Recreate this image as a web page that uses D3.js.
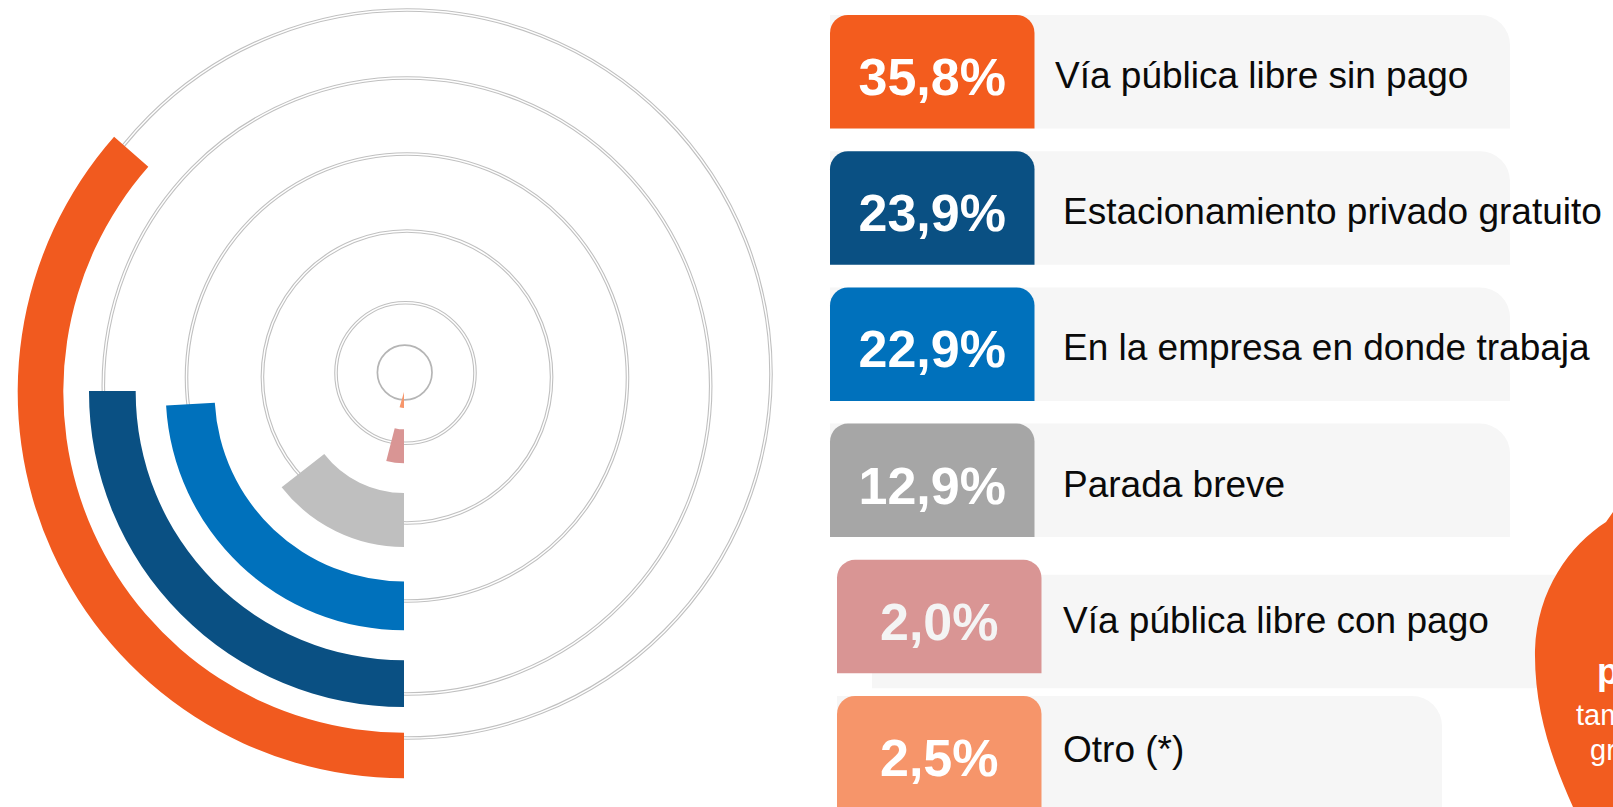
<!DOCTYPE html>
<html><head><meta charset="utf-8">
<script src="https://cdn.jsdelivr.net/npm/d3@7"></script>
<style>html,body{margin:0;padding:0;background:#fff;overflow:hidden}svg{display:block}</style>
</head><body>
<svg id="c" width="1613" height="807"></svg>
<script>
// ---------- data ----------
const categories = ["Vía pública libre sin pago","Estacionamiento privado gratuito","En la empresa en donde trabaja","Parada breve","Vía pública libre con pago","Otro (*)"];
const values = [35.8, 23.9, 22.9, 12.9, 2.0, 2.5];
const barColors = ["#f15a1f","#0a5083","#0071bc","#bfbfbf","#d99594","#f7966b"];
const boxColors = ["#f35c1e","#0a5083","#0071bc","#a6a6a6","#d99594","#f6956a"];
const calloutLines = ["pagan","también","gratuito"];

// ---------- layout ----------
const svg = d3.select("#c");
const font = "'Liberation Sans', Arial, sans-serif";
const fmt = d3.formatLocale({decimal: ",", thousands: ".", grouping: [3], currency: ["", ""]}).format(".1f");
const deg = Math.PI / 180;

// radial gridline rings (decorative)
const gridRings = [
  {cx: 404.7, cy: 372.5, rx: 27.3, ry: 27.3, single: true},
  {cx: 405.5, cy: 373, rx: 69.5, ry: 70.3},
  {cx: 407, cy: 377, rx: 144.6, ry: 146},
  {cx: 407, cy: 377.5, rx: 220.5, ry: 223.5},
  {cx: 407, cy: 386, rx: 303.7, ry: 308},
  {cx: 407, cy: 374, rx: 364, ry: 364}
];
const gGrid = svg.append("g");
gridRings.forEach(r => {
  if (r.single) {
    gGrid.append("ellipse").attr("cx", r.cx).attr("cy", r.cy).attr("rx", r.rx).attr("ry", r.ry)
      .attr("fill", "none").attr("stroke", "#b5b5b5").attr("stroke-width", 1.7);
  } else {
    gGrid.append("ellipse").attr("cx", r.cx).attr("cy", r.cy).attr("rx", r.rx).attr("ry", r.ry)
      .attr("fill", "none").attr("stroke", "#c0c0c0").attr("stroke-width", 3.6);
    gGrid.append("ellipse").attr("cx", r.cx).attr("cy", r.cy).attr("rx", r.rx).attr("ry", r.ry)
      .attr("fill", "none").attr("stroke", "#fff").attr("stroke-width", 1.4);
  }
});

// radial bars
const center = [404, 392];
const innerR = d3.scaleOrdinal(categories, [340.7, 268.3, 189.5, 101, 37.3, 0]);
const outerR = d3.scaleOrdinal(categories, [386.3, 315, 238.3, 155, 71.3, 16]);
const angle = d3.scaleLinear().domain([0, 100]).range([7.5 * deg, 353.5 * deg]);
const color = d3.scaleOrdinal(categories, barColors);
const arc = d3.arc()
  .innerRadius(d => innerR(d.cat))
  .outerRadius(d => outerR(d.cat))
  .startAngle(Math.PI)
  .endAngle(d => Math.PI + angle(d.v));
const barData = categories.map((c, i) => ({cat: c, v: values[i]}));
svg.append("g").attr("transform", `translate(${center[0]},${center[1]})`)
  .selectAll("path").data(barData).join("path")
  .attr("d", arc).attr("fill", d => color(d.cat));

// ---------- legend ----------
const rowY = d3.scaleLinear().domain([0, 1]).range([15, 151.2]);
const boxW = 204.5, boxH = 113.5;
function topRounded(x, y, w, h, rl, rr) {
  const p = d3.path();
  p.moveTo(x, y + h);
  p.lineTo(x, y + rl);
  if (rl > 0) p.arcTo(x, y, x + rl, y, rl);
  p.lineTo(x + w - rr, y);
  if (rr > 0) p.arcTo(x + w, y, x + w, y + rr, rr);
  p.lineTo(x + w, y + h);
  p.closePath();
  return p.toString();
}
const gLeg = svg.append("g");
categories.forEach((c, i) => {
  const top = rowY(i);
  const x0 = i >= 4 ? 837 : 830;
  // background panel
  if (i < 4) gLeg.append("path").attr("d", topRounded(x0, top, 1510 - x0, boxH, 0, 30)).attr("fill", "#f6f6f6");
  else if (i === 4) gLeg.append("path").attr("d", topRounded(872, top + 15, 728, boxH, 0, 0)).attr("fill", "#f6f6f6");
  else gLeg.append("path").attr("d", topRounded(x0, top, 1442 - x0, boxH, 0, 30)).attr("fill", "#f6f6f6");
  // colored box
  gLeg.append("path").attr("d", topRounded(x0, top, boxW, boxH, 18, 18)).attr("fill", boxColors[i]);
  // percentage
  gLeg.append("text").attr("x", x0 + boxW / 2).attr("y", top + 80)
    .attr("text-anchor", "middle").attr("font-family", font).attr("font-weight", "bold")
    .attr("font-size", 52).attr("fill", i === 4 ? "#f4f4f4" : "#fff")
    .text(fmt(values[i]) + "%");
  // label
  gLeg.append("text").attr("x", i === 0 ? 1055 : 1063).attr("y", top + (i === 5 ? 66 : 73))
    .attr("font-family", font).attr("font-size", 37).attr("fill", "#0a0a0a")
    .text(c);
});

// ---------- callout blob ----------
const bp = d3.path();
bp.moveTo(1613, 512);
bp.lineTo(1606, 522);
bp.bezierCurveTo(1570, 545, 1537, 590, 1535, 650);
bp.bezierCurveTo(1534, 710, 1552, 760, 1573, 807);
bp.lineTo(1613, 807);
bp.closePath();
svg.append("path").attr("d", bp.toString()).attr("fill", "#f25c1f");
svg.append("text").attr("x", 1597).attr("y", 684).attr("font-family", font).attr("font-weight", "bold")
  .attr("font-size", 36).attr("fill", "#fff").text(calloutLines[0]);
svg.append("text").attr("x", 1576).attr("y", 725).attr("font-family", font)
  .attr("font-size", 29).attr("fill", "#fff").text(calloutLines[1]);
svg.append("text").attr("x", 1590).attr("y", 760).attr("font-family", font)
  .attr("font-size", 29).attr("fill", "#fff").text(calloutLines[2]);
</script>
</body></html>
